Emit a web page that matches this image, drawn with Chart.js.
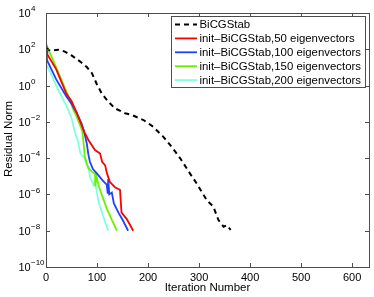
<!DOCTYPE html>
<html>
<head>
<meta charset="utf-8">
<script src="https://cdn.jsdelivr.net/npm/chart.js@4.4.0/dist/chart.umd.min.js"></script>
<style>
  html, body { margin: 0; padding: 0; background: #fff; }
  canvas { display: block; }
</style>
</head>
<body>
<canvas id="chart" width="374" height="297" style="width:374px;height:297px"></canvas>
<script>
// --- data ---
const xTicks = [0, 100, 200, 300, 400, 500, 600];
const yTickExp = [-10, -8, -6, -4, -2, 0, 2, 4];

const bicgIter = [0, 8, 24, 37, 50, 67, 80, 90, 99, 109, 122, 135, 155, 168, 191, 210, 230, 246, 263, 282, 295, 315, 328, 338, 348, 354, 362];
const bicgRes = [1.2e2, 8.3e1, 9.5e1, 7.4e1, 4.6e1, 2.1e1, 1.05e1, 4.8e0, 1.3e0, 3.7e-1, 1.3e-1, 5.6e-2, 3.0e-2, 2.4e-2, 1.26e-2, 5.4e-3, 1.5e-3, 4.3e-4, 9.8e-5, 1.45e-5, 4.1e-6, 4.9e-7, 2.1e-7, 3.9e-8, 1.66e-8, 2.0e-8, 1.1e-8];

const e50Iter = [0, 3, 20, 40, 45, 50, 60, 70, 76, 83, 96, 106, 110, 116, 119, 125, 135, 145, 148, 158, 171];
const e50Res = [2.0e2, 5.0e1, 7.9e0, 3.5e-1, 2.2e-1, 1.4e-1, 3.2e-2, 6.3e-3, 2.5e-3, 1.0e-3, 2.8e-4, 1.8e-4, 6.3e-5, 4.0e-5, 1.6e-5, 5.0e-6, 2.5e-6, 1.8e-6, 1.0e-7, 4.5e-8, 1.0e-8];

const e100Iter = [0, 2, 8, 20, 40, 50, 60, 70, 76, 80, 83, 86, 92, 100, 110, 119, 121, 122, 124, 129, 133, 142, 150, 161];
const e100Res = [2.0e2, 2.5e1, 1.1e1, 2.2e0, 2.5e-1, 1.0e-1, 3.2e-2, 7.9e-3, 2.0e-3, 6.3e-4, 1.6e-4, 6.3e-5, 2.5e-5, 1.4e-5, 6.3e-6, 3.5e-6, 1.1e-6, 7.1e-6, 1.0e-6, 1.26e-6, 3.2e-7, 1.0e-7, 4.0e-8, 1.0e-8];

const e150Iter = [0, 8, 20, 35, 47, 53, 60, 67, 71, 73, 76, 80, 83, 90, 96, 96.5, 99, 103, 109, 119, 129, 139];
const e150Res = [2.0e2, 6.0e1, 1.0e1, 1.0e0, 1.6e-1, 5.0e-2, 2.0e-2, 6.3e-3, 3.2e-3, 1.0e-3, 1.26e-4, 5.0e-5, 2.8e-5, 1.8e-5, 1.4e-5, 2.8e-6, 1.0e-5, 3.2e-6, 1.0e-6, 1.7e-7, 4.0e-8, 1.0e-8];

const e200Iter = [0, 1, 8, 20, 34, 40, 50, 57, 63, 67, 75, 80, 83, 86, 93, 96, 103, 112, 122];
const e200Res = [2.0e2, 1.35e1, 5.8e0, 1.0e0, 1.6e-1, 7.9e-2, 1.6e-2, 2.5e-3, 7.9e-4, 2.0e-4, 1.0e-4, 4.0e-5, 3.5e-5, 1.0e-5, 3.2e-6, 5.0e-6, 4.0e-7, 6.3e-8, 1.0e-8];

const seriesNames = [
  'BiCGStab',
  'init\u2013BiCGStab,50 eigenvectors',
  'init\u2013BiCGStab,100 eigenvectors',
  'init\u2013BiCGStab,150 eigenvectors',
  'init\u2013BiCGStab,200 eigenvectors'
];

const FONT = '"Liberation Sans", Arial, Helvetica, sans-serif';

function pts(xs, ys) {
  return xs.map((x, i) => ({ x: x, y: ys[i] }));
}

// matlab style box, inward ticks, tick labels with exponents, axis titles
const axesDecor = {
  id: 'axesDecor',
  afterDraw(chart) {
    const ctx = chart.ctx;
    const a = chart.chartArea;
    const xs = chart.scales.x, ys = chart.scales.y;
    ctx.save();
    ctx.strokeStyle = '#4d4d4d';
    ctx.lineWidth = 1;
    ctx.strokeRect(Math.round(a.left) + 0.5, Math.round(a.top) + 0.5,
      Math.round(a.right - a.left), Math.round(a.bottom - a.top));
    const tl = 4;
    ctx.beginPath();
    xTicks.forEach(v => {
      const px = Math.round(xs.getPixelForValue(v)) + 0.5;
      ctx.moveTo(px, a.bottom); ctx.lineTo(px, a.bottom - tl);
      ctx.moveTo(px, a.top); ctx.lineTo(px, a.top + tl);
    });
    yTickExp.forEach(e => {
      const py = Math.round(ys.getPixelForValue(Math.pow(10, e))) + 0.5;
      ctx.moveTo(a.left, py); ctx.lineTo(a.left + tl, py);
      ctx.moveTo(a.right, py); ctx.lineTo(a.right - tl, py);
    });
    ctx.stroke();

    // y tick labels 10^n
    ctx.fillStyle = '#000';
    yTickExp.forEach(e => {
      const py = ys.getPixelForValue(Math.pow(10, e));
      ctx.font = '11px ' + FONT;
      ctx.textAlign = 'left';
      ctx.textBaseline = 'middle';
      ctx.fillText('10', 18.5, py + 1);
      ctx.font = '8px ' + FONT;
      ctx.fillText(String(e).replace('-', '\u2212'), 31, py - 4);
    });

    // axis titles
    ctx.font = '11.5px ' + FONT;
    ctx.textAlign = 'center';
    ctx.textBaseline = 'middle';
    ctx.fillText('Iteration Number', (a.left + a.right) / 2, 287.5);
    ctx.save();
    ctx.translate(8.5, 139);
    ctx.rotate(-Math.PI / 2);
    ctx.fillText('Residual Norm', 0, 0);
    ctx.restore();
    ctx.restore();
  }
};

// boxed legend in the upper right of the axes
const boxLegend = {
  id: 'boxLegend',
  afterDatasetsDraw(chart) {
    const ctx = chart.ctx;
    const bx = 171.5, by = 16.5, bw = 194, bh = 71;
    ctx.save();
    ctx.fillStyle = '#fff';
    ctx.fillRect(bx, by, bw, bh);
    ctx.strokeStyle = '#4d4d4d';
    ctx.lineWidth = 1;
    ctx.strokeRect(bx, by, bw, bh);
    chart.data.datasets.forEach((ds, i) => {
      const y = 24.5 + i * 13.9;
      ctx.strokeStyle = ds.borderColor;
      ctx.lineWidth = ds.borderWidth;
      ctx.setLineDash(ds.borderDash || []);
      ctx.beginPath();
      ctx.moveTo(175, y);
      ctx.lineTo(197, y);
      ctx.stroke();
      ctx.setLineDash([]);
      ctx.fillStyle = '#000';
      ctx.font = '11.4px ' + FONT;
      ctx.textAlign = 'left';
      ctx.textBaseline = 'middle';
      ctx.fillText(ds.label, 199.5, y + 0.5);
    });
    ctx.restore();
  }
};

const chart = new Chart(document.getElementById('chart').getContext('2d'), {
  type: 'line',
  data: {
    datasets: [
      { label: seriesNames[0], data: pts(bicgIter, bicgRes), borderColor: '#000000', borderWidth: 2, borderDash: [5, 4] },
      { label: seriesNames[1], data: pts(e50Iter, e50Res), borderColor: '#ff0000', borderWidth: 1.8 },
      { label: seriesNames[2], data: pts(e100Iter, e100Res), borderColor: '#2040ff', borderWidth: 1.8 },
      { label: seriesNames[3], data: pts(e150Iter, e150Res), borderColor: '#6cf000', borderWidth: 1.8 },
      { label: seriesNames[4], data: pts(e200Iter, e200Res), borderColor: '#80ffe0', borderWidth: 1.8 }
    ]
  },
  options: {
    responsive: false,
    animation: false,
    devicePixelRatio: 1,
    layout: { padding: { top: 13, right: 5, left: 0, bottom: 0 } },
    elements: { point: { radius: 0 }, line: { tension: 0, fill: false } },
    plugins: { legend: { display: false }, tooltip: { enabled: false } },
    scales: {
      x: {
        type: 'linear', min: 0, max: 633,
        afterBuildTicks: s => { s.ticks = xTicks.map(v => ({ value: v })); },
        afterFit: s => { s.height = 30; },
        grid: { display: false, drawTicks: false },
        border: { display: false },
        ticks: { color: '#000', font: { size: 11, family: FONT }, padding: 4, maxRotation: 0, autoSkip: false }
      },
      y: {
        type: 'logarithmic', min: 1e-10, max: 1e4,
        afterBuildTicks: s => { s.ticks = yTickExp.map(e => ({ value: Math.pow(10, e) })); },
        afterFit: s => { s.width = 46; },
        grid: { display: false, drawTicks: false },
        border: { display: false },
        ticks: { display: false }
      }
    }
  },
  plugins: [axesDecor, boxLegend]
});
</script>
</body>
</html>
